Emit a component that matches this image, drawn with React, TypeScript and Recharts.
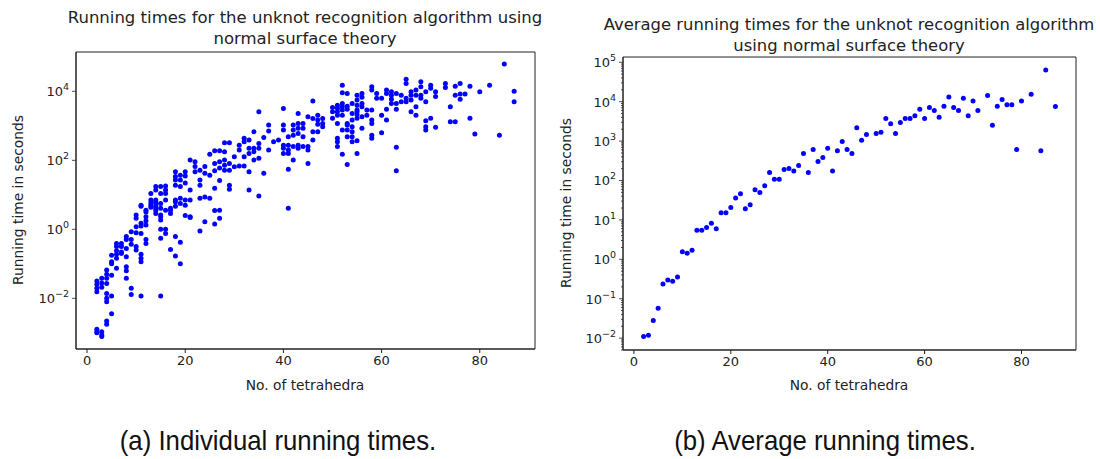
import React from "react";
import { ReferenceArea, Scatter, ScatterChart, XAxis, YAxis } from "recharts";

// tick positions
const xTicks = [0, 20, 40, 60, 80];
const individualDecades = [1e-2, 1, 1e2, 1e4];
const averageDecades = [1e-2, 1e-1, 1, 1e1, 1e2, 1e3, 1e4, 1e5];

// (a) individual running times, grouped by number of tetrahedra
const individualTimes: [number, number[]][] = [
  [2, [1.26e-3, 1.07e-3, 1.0e-3, 3.2e-2, 2.5e-2, 1.95e-2, 1.55e-2]],
  [3, [8.7e-4, 1.07e-3, 7.8e-4, 3.8e-2, 2.8e-2, 2.1e-2]],
  [4, [1.78e-3, 2.2e-3, 6.6e-2, 5.0e-2, 3.8e-2, 2.7e-2, 1.38e-2, 1.0e-2, 7.9e-3]],
  [5, [3.6e-3, 4.7e-2, 1.17e-2, 0.115, 0.1, 0.178]],
  [6, [0.39, 0.32, 0.24, 0.19, 0.145, 0.074]],
  [7, [0.39, 0.32, 0.22, 0.2]],
  [8, [0.62, 0.51, 0.28, 0.16, 0.083, 0.063, 0.038]],
  [9, [0.85, 0.51, 0.37, 0.0195, 0.0129]],
  [10, [2.6, 2.1, 1.19, 0.8, 0.32, 0.25]],
  [11, [5.0, 4.7, 1.49, 1.24, 0.76, 0.19, 0.145, 0.115, 0.0117]],
  [12, [3.6, 3.2, 2.3, 1.78, 1.33, 0.51, 0.39]],
  [13, [11, 7.1, 5.9, 5.0, 4.4]],
  [14, [17.4, 13.8, 7.1, 6.3, 5.6, 4.7, 4.1, 3.5, 2.9]],
  [15, [17.4, 11, 5.6, 4.1, 2.6, 2.3, 1.86, 1.0, 0.55, 0.0117]],
  [16, [18, 13.8, 11, 7.1, 3.6, 1.0, 0.76]],
  [17, [4.1, 3.6, 2.9, 0.26]],
  [18, [47, 34, 27, 19, 7.1, 6.3, 4.7, 0.62, 0.17]],
  [19, [37, 27, 17.4, 7.9, 5.6, 0.42, 0.1]],
  [20, [47, 35, 22, 7.1, 5.0, 2.5]],
  [21, [102, 13.8, 7.1, 2.3, 2.2]],
  [22, [91, 66, 47]],
  [23, [52, 27, 19, 7.9, 0.89]],
  [24, [66, 42, 8.7, 1.66]],
  [25, [150, 37, 7.9]],
  [26, [190, 81, 50, 15.5, 3.5, 1.42]],
  [27, [190, 91, 60, 26, 3.6, 2.1]],
  [28, [324, 178, 102, 72, 52]],
  [29, [324, 81, 52, 19, 14.5]],
  [30, [126, 65]],
  [31, [275, 200, 68]],
  [32, [436, 347, 126, 68]],
  [33, [389, 224, 158, 47, 13.8]],
  [34, [676, 224, 178, 102]],
  [35, [2570, 309, 224, 115, 9.3]],
  [36, [457, 42]],
  [37, [1050, 708, 200]],
  [38, [347]],
  [39, [389]],
  [40, [3160, 1050, 759, 275, 224, 158]],
  [41, [479, 275, 200, 158, 55, 4.1]],
  [42, [1050, 759, 537, 251, 102]],
  [43, [2290, 1175, 851, 603, 275, 224]],
  [44, [1175, 851, 479, 251]],
  [45, [1820, 251, 200, 81]],
  [46, [5250, 1620, 676, 389]],
  [47, [2040, 1480, 1120, 676]],
  [48, [1620, 1175, 933]],
  [50, [3390, 2570, 1660]],
  [51, [3980, 3240, 2570, 2040, 1175, 436, 347, 251]],
  [52, [15100, 9100, 4470, 3550, 2880, 2040, 759, 151]],
  [53, [8700, 3720, 3020, 1175, 1050, 759, 479, 76]],
  [54, [4470, 2290, 1480, 933, 676, 479, 347]],
  [55, [7760, 5620, 3980, 2880, 2570, 2140, 1660, 372, 158]],
  [56, [8700, 6760, 4470, 3550, 1820, 851]],
  [57, [2880, 2040]],
  [58, [13500, 11000, 2880, 1480, 1175, 537, 436]],
  [59, [8700, 6310]],
  [60, [6310, 2040, 631]],
  [61, [11000, 8700, 3020, 1480]],
  [62, [9800, 7760, 5890, 4470]],
  [63, [8700, 4470, 3020, 240, 50]],
  [64, [7760, 5010]],
  [65, [22400, 17000, 6310, 5010]],
  [66, [9800, 7760, 5620, 2570]],
  [67, [11000, 7760, 3550, 2040]],
  [68, [19000, 13500, 7760, 6310]],
  [69, [9800, 5010, 1410, 933, 759]],
  [70, [15100, 12300, 1660]],
  [71, [9800, 7080, 912]],
  [73, [17000, 12900]],
  [74, [3550, 1320]],
  [75, [14100, 7760, 1320]],
  [76, [17000, 8300, 5890]],
  [77, [8300]],
  [78, [14100, 1660]],
  [79, [575]],
  [80, [9800]],
  [82, [15100]],
  [84, [537]],
  [85, [61700]],
  [87, [10000, 5000]],
];

// (b) average running times
const averageTetra = [
  2, 3, 4, 5, 6, 7, 8, 9, 10, 11, 12, 13, 14, 15, 16, 17, 18, 19, 20, 21, 22, 23, 24, 25, 26, 27, 28, 29,
  30, 31, 32, 33, 34, 35, 36, 37, 38, 39, 40, 41, 42, 43, 44, 45, 46, 47, 48, 50, 51, 52, 53, 54, 55, 56,
  57, 58, 59, 60, 61, 62, 63, 64, 65, 66, 67, 68, 69, 70, 71, 73, 74, 75, 76, 77, 78, 79, 80, 82, 84, 85, 87,
];
const averageTimes = [
  0.011, 0.0118, 0.028, 0.057, 0.237, 0.3, 0.277, 0.356, 1.56, 1.42, 1.69, 5.5, 5.5, 6.46, 8.2, 6.0, 15.2,
  15.2, 20.7, 35.8, 46, 19.2, 24.3, 58, 49.8, 73.5, 160, 108, 108, 190, 202, 173, 240, 484, 160, 612, 304,
  384, 661, 173, 566, 977, 612, 484, 2170, 1055, 1470, 1556, 1683, 3730, 2735, 1556, 2958, 3730, 3730, 4365,
  6440, 3730, 7100, 5960, 4040, 7680, 13200, 7100, 5960, 12240, 4365, 10470, 5960, 14290, 2530, 7680, 11320,
  8300, 8300, 612, 10470, 15450, 566, 63800, 7500,
];

const individualData = individualTimes.flatMap(([n, ts]) => ts.map((t) => ({ n, t })));
const averageData = averageTetra.map((n, i) => ({ n, t: averageTimes[i] }));

const FONT = "'DejaVu Sans', sans-serif";
const CAPTION_FONT = "'Liberation Sans', Arial, sans-serif";
const INK = "#222";
const BLUE = "#0000ff";
const TICK_SIZE = 4;
const TICK_MARGIN = 3;
const TICK_FONT = 13;

function minorTicks(lo: number, hi: number) {
  const out: number[] = [];
  for (let e = -4; e <= 5; e++) {
    for (let m = 2; m <= 9; m++) {
      const v = m * Math.pow(10, e);
      if (v >= lo && v <= hi) out.push(v);
    }
  }
  return out;
}

function makeLogTick(labelled: number[]) {
  return function LogTick(props: any) {
    const { x, y, payload } = props;
    const v = payload.value as number;
    const axisX = x + TICK_SIZE + TICK_MARGIN;
    const major = labelled.some((d) => Math.abs(d - v) / d < 1e-6);
    if (!major) {
      return <line x1={axisX - 2} x2={axisX} y1={y} y2={y} stroke={INK} strokeWidth={0.8} />;
    }
    const e = Math.round(Math.log10(v));
    const exp = e < 0 ? "\u2212" + Math.abs(e) : String(e);
    return (
      <g>
        <line x1={axisX - TICK_SIZE} x2={axisX} y1={y} y2={y} stroke={INK} strokeWidth={0.8} />
        <text x={x} y={y} dy={5} textAnchor="end" fontSize={TICK_FONT} fill={INK} fontFamily={FONT}>
          10
          <tspan dy={-6} fontSize={9.5}>
            {exp}
          </tspan>
        </text>
      </g>
    );
  };
}

const dot = (p: any) => <circle cx={p.cx} cy={p.cy} r={2.5} fill={BLUE} />;

type PanelProps = {
  left: number;
  data: { n: number; t: number }[];
  yDomain: [number, number];
  majors: number[];
  minors: number[];
  margin: { top: number; right: number; bottom: number; left: number };
};

function Panel({ left, data, yDomain, majors, minors, margin }: PanelProps) {
  const xDomain: [number, number] = [-2.25, 91.25];
  return (
    <div style={{ position: "absolute", left, top: 0 }}>
      <ScatterChart width={550} height={400} margin={margin}>
        <XAxis
          type="number"
          dataKey="n"
          domain={xDomain}
          ticks={xTicks}
          allowDataOverflow
          interval={0}
          tickSize={TICK_SIZE}
          tickMargin={TICK_MARGIN}
          stroke={INK}
          tick={{ fontSize: TICK_FONT, fill: INK, fontFamily: FONT }}
          height={30}
        />
        <YAxis
          type="number"
          dataKey="t"
          scale="log"
          domain={yDomain}
          allowDataOverflow
          ticks={[...majors, ...minors].sort((a, b) => a - b)}
          interval={0}
          tickSize={TICK_SIZE}
          tickMargin={TICK_MARGIN}
          tickLine={false}
          stroke={INK}
          tick={makeLogTick(majors)}
          width={60}
        />
        <ReferenceArea
          x1={xDomain[0]}
          x2={xDomain[1]}
          y1={yDomain[0]}
          y2={yDomain[1]}
          fill="none"
          fillOpacity={0}
          stroke={INK}
          strokeWidth={1}
        />
        <Scatter data={data} shape={dot} isAnimationActive={false} />
      </ScatterChart>
    </div>
  );
}

const textBase: React.CSSProperties = {
  position: "absolute",
  fontFamily: FONT,
  color: INK,
  whiteSpace: "nowrap",
  transform: "translate(-50%, -50%)",
  textAlign: "center",
};

const captionStyle: React.CSSProperties = {
  ...textBase,
  fontSize: 28,
  fontFamily: CAPTION_FONT,
  color: "#111",
  transform: "translate(-50%, -50%) scaleX(0.92)",
};

export default function App() {
  const leftDomain: [number, number] = [3.4e-4, 1.38e5];
  const rightDomain: [number, number] = [5.0e-3, 1.36e5];
  return (
    <div style={{ position: "absolute", left: 0, top: 0, width: 1100, height: 459, background: "#fff", overflow: "hidden" }}>
      <Panel
        left={0}
        data={individualData}
        yDomain={leftDomain}
        majors={individualDecades}
        minors={[]}
        margin={{ top: 52, right: 15, bottom: 21, left: 16 }}
      />
      <Panel
        left={550}
        data={averageData}
        yDomain={rightDomain}
        majors={averageDecades}
        minors={minorTicks(rightDomain[0], rightDomain[1])}
        margin={{ top: 57, right: 24, bottom: 20, left: 13 }}
      />

      <div style={{ ...textBase, left: 305, top: 17, fontSize: 16.5 }}>Running times for the unknot recognition algorithm using</div>
      <div style={{ ...textBase, left: 305, top: 38, fontSize: 16.5 }}>normal surface theory</div>
      <div style={{ ...textBase, left: 849, top: 24, fontSize: 16.4 }}>Average running times for the unknot recognition algorithm</div>
      <div style={{ ...textBase, left: 849, top: 45, fontSize: 16.4 }}>using normal surface theory</div>

      <div style={{ ...textBase, left: 18, top: 200, fontSize: 13.8, transform: "translate(-50%, -50%) rotate(-90deg)" }}>
        Running time in seconds
      </div>
      <div style={{ ...textBase, left: 566, top: 203, fontSize: 13.8, transform: "translate(-50%, -50%) rotate(-90deg)" }}>
        Running time in seconds
      </div>
      <div style={{ ...textBase, left: 305, top: 385, fontSize: 13.8 }}>No. of tetrahedra</div>
      <div style={{ ...textBase, left: 849, top: 385, fontSize: 13.8 }}>No. of tetrahedra</div>

      <div style={{ ...captionStyle, left: 278, top: 441 }}>(a) Individual running times.</div>
      <div style={{ ...captionStyle, left: 825, top: 441 }}>(b) Average running times.</div>
    </div>
  );
}
